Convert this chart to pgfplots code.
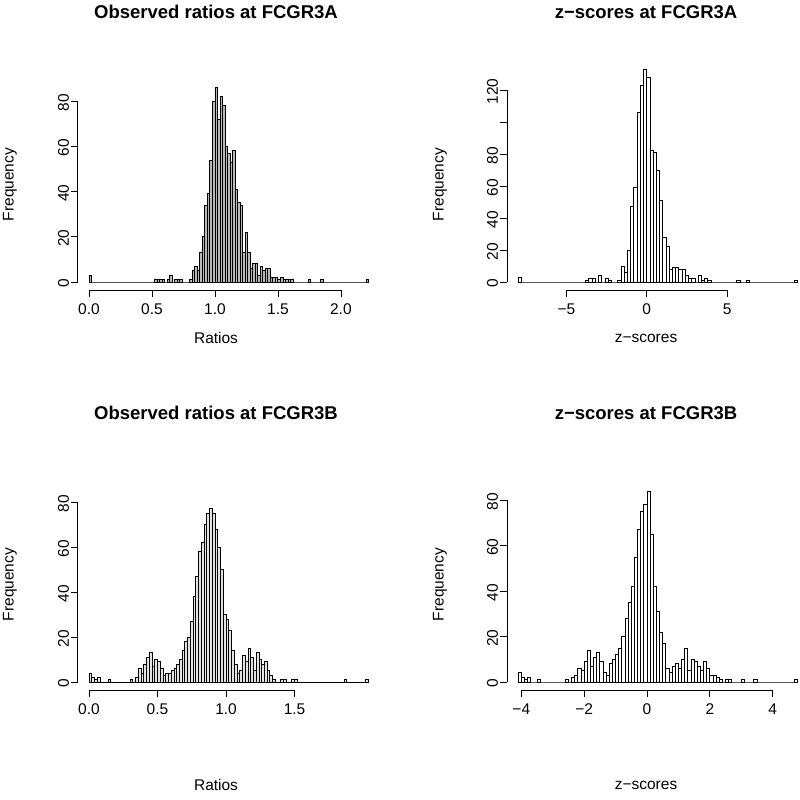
\documentclass[border=0pt]{standalone}
\usepackage{fontspec}
\setmainfont{Liberation Sans}
\usepackage{pgfplots}
\pgfplotsset{compat=1.18}

% histogram counts (left bin edge, count); last row closes the last bin
\pgfplotstableread{
x y
0.00 3
0.02 0
0.52 1
0.54 1
0.56 1
0.58 1
0.60 0
0.62 1
0.64 3
0.66 0
0.68 1
0.70 1
0.72 1
0.74 0
0.80 1
0.82 5
0.84 7
0.86 5
0.88 13
0.90 20
0.92 34
0.94 39
0.96 54
0.98 80
1.00 86
1.02 72
1.04 82
1.06 78
1.08 60
1.10 57
1.12 53
1.14 58
1.16 41
1.18 35
1.20 34
1.22 13
1.24 22
1.26 13
1.28 6
1.30 8
1.32 8
1.34 3
1.36 7
1.38 5
1.40 6
1.42 6
1.44 2
1.46 2
1.48 2
1.50 1
1.52 2
1.54 1
1.56 1
1.58 1
1.60 1
1.62 0
1.74 1
1.76 0
1.84 1
1.86 0
2.20 1
2.22 0
}\histA

\pgfplotstableread{
x y
-8.0 3
-7.8 0
-3.8 1
-3.6 2
-3.4 2
-3.2 0
-3.0 4
-2.8 0
-2.6 2
-2.4 1
-2.2 0
-1.8 1
-1.6 10
-1.4 6
-1.2 20
-1.0 47
-0.8 59
-0.6 106
-0.4 123
-0.2 133
0.0 128
0.2 82
0.4 81
0.6 70
0.8 51
1.0 28
1.2 22
1.4 8
1.6 9
1.8 9
2.0 8
2.2 8
2.4 4
2.6 2
2.8 2
3.0 0
3.2 4
3.4 1
3.6 2
3.8 1
4.0 0
5.6 1
5.8 0
6.2 1
6.4 0
9.2 1
9.4 0
}\histB

\pgfplotstableread{
x y
0.00 4
0.02 2
0.04 1
0.06 2
0.08 0
0.14 1
0.16 0
0.30 1
0.32 0
0.34 2
0.36 6
0.38 4
0.40 8
0.42 11
0.44 13
0.46 7
0.48 10
0.50 9
0.52 6
0.54 3
0.56 4
0.58 4
0.60 5
0.62 6
0.64 8
0.66 10
0.68 14
0.70 18
0.72 20
0.74 27
0.76 38
0.78 47
0.80 58
0.82 62
0.84 70
0.86 75
0.88 77
0.90 75
0.92 68
0.94 60
0.96 50
0.98 30
1.00 28
1.02 23
1.04 14
1.06 8
1.08 4
1.10 5
1.12 12
1.14 9
1.16 15
1.18 11
1.20 5
1.22 13
1.24 10
1.26 8
1.28 9
1.30 5
1.32 3
1.34 1
1.36 0
1.40 1
1.42 1
1.44 0
1.48 1
1.50 1
1.52 0
1.86 1
1.88 0
2.02 1
2.04 0
}\histC

\pgfplotstableread{
x y
-4.1 4
-4.0 2
-3.9 1
-3.8 2
-3.7 0
-3.5 1
-3.4 0
-2.6 1
-2.5 0
-2.4 2
-2.3 3
-2.2 6
-2.1 5
-2.0 9
-1.9 14
-1.8 7
-1.7 11
-1.6 13
-1.5 9
-1.4 4
-1.3 3
-1.2 8
-1.1 10
-1.0 12
-0.9 15
-0.8 20
-0.7 28
-0.6 35
-0.5 42
-0.4 55
-0.3 67
-0.2 75
-0.1 78
0.0 84
0.1 65
0.2 42
0.3 31
0.4 22
0.5 17
0.6 6
0.7 4
0.8 7
0.9 8
1.0 6
1.1 10
1.2 15
1.3 5
1.4 10
1.5 9
1.6 7
1.7 5
1.8 9
1.9 6
2.0 3
2.1 3
2.2 2
2.3 1
2.4 0
2.5 1
2.6 1
2.7 0
3.0 1
3.1 0
3.4 1
3.5 0
4.7 1
4.8 0
}\histD

\pgfplotsset{
  rhist/.style={
    scale only axis,
    width=190.26bp, height=132.93bp,
    anchor=south west,
    clip=false,
    axis line style={draw=none},
    tick align=outside,
    xtick pos=lower, ytick pos=left,
    major tick length=4.4bp,
    tick style={black, line width=0.5pt},
    yticklabel style={rotate=90, anchor=south, font=\fontsize{9.8}{11}\selectfont, inner sep=1pt, xshift=-1bp},
    xticklabel style={anchor=north, font=\fontsize{9.8}{11}\selectfont, inner sep=1pt, yshift=-3bp},
  },
  hbar/.style={ybar interval, draw=black, line width=0.55pt},
}

\begin{document}
\begin{tikzpicture}
\useasboundingbox (0,0) rectangle (504bp,503.37bp);
\clip (0,0) rectangle (504bp,503.37bp);

% top left
\begin{axis}[rhist, at={(49.01bp,320.67bp)},
  xmin=-0.0888, xmax=2.3088, ymin=-3.54, ymax=89.82,
  xtick={0,0.5,1,1.5,2}, xticklabels={0.0,0.5,1.0,1.5,2.0},
  ytick={0,20,40,60,80}, yticklabels={0,20,40,60,80}]
\addplot[hbar, fill=gray!55] table {\histA};
\draw[line width=0.5pt] (axis cs:0,-3.54) -- (axis cs:2,-3.54);
\draw[line width=0.5pt] (axis cs:-0.0888,0) -- (axis cs:-0.0888,80);
\end{axis}

% top right
\begin{axis}[rhist, at={(319.41bp,320.67bp)},
  xmin=-8.696, xmax=10.096, ymin=-5, ymax=126.9,
  xtick={-5,0,5}, xticklabels={−5,0,5},
  ytick={0,20,40,60,80,100,120}, yticklabels={0,20,40,60,80,,120}]
\addplot[hbar, fill=white] table {\histB};
\draw[line width=0.5pt] (axis cs:-5,-5) -- (axis cs:5,-5);
\draw[line width=0.5pt] (axis cs:-8.696,0) -- (axis cs:-8.696,120);
\end{axis}

% bottom left
\begin{axis}[rhist, at={(49.01bp,68.67bp)},
  xmin=-0.0816, xmax=2.1216, ymin=-3.56, ymax=90.2,
  xtick={0,0.5,1,1.5}, xticklabels={0.0,0.5,1.0,1.5},
  ytick={0,20,40,60,80}, yticklabels={0,20,40,60,80}]
\addplot[hbar, fill=gray!22] table {\histC};
\draw[line width=0.5pt] (axis cs:0,-3.56) -- (axis cs:1.5,-3.56);
\draw[line width=0.5pt] (axis cs:-0.0816,0) -- (axis cs:-0.0816,80);
\end{axis}

% bottom right
\begin{axis}[rhist, at={(319.41bp,68.67bp)},
  xmin=-4.456, xmax=5.156, ymin=-3.52, ymax=89.4,
  xtick={-4,-2,0,2,4}, xticklabels={−4,−2,0,2,4},
  ytick={0,20,40,60,80}, yticklabels={0,20,40,60,80}]
\addplot[hbar, fill=white] table {\histD};
\draw[line width=0.5pt] (axis cs:-4,-3.52) -- (axis cs:4,-3.52);
\draw[line width=0.5pt] (axis cs:-4.456,0) -- (axis cs:-4.456,80);
\end{axis}

\begin{scope}[font=\fontsize{11.7}{14}\selectfont\bfseries]
\node at (136.1bp,495.8bp) {Observed ratios at FCGR3A};
\node at (407.0bp,495.8bp) {z−scores at FCGR3A};
\node at (136.1bp,243.2bp) {Observed ratios at FCGR3B};
\node at (407.0bp,243.2bp) {z−scores at FCGR3B};
\end{scope}
\begin{scope}[font=\fontsize{9.8}{11}\selectfont]
\node[rotate=90] at (6.3bp,387.1bp) {Frequency};
\node[rotate=90] at (277.2bp,387.1bp) {Frequency};
\node[rotate=90] at (6.3bp,135.1bp) {Frequency};
\node[rotate=90] at (277.2bp,135.1bp) {Frequency};
\node at (136.1bp,290.4bp) {Ratios};
\node at (407.0bp,290.4bp) {z−scores};
\node at (136.1bp,8.8bp) {Ratios};
\node at (407.0bp,8.8bp) {z−scores};
\end{scope}
\end{tikzpicture}
\end{document}
